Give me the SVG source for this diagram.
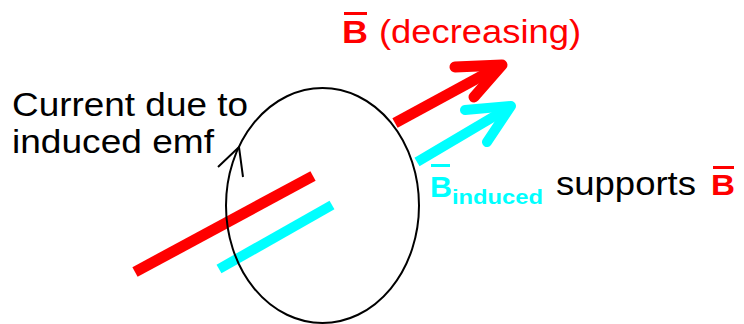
<svg xmlns="http://www.w3.org/2000/svg" width="744" height="324" viewBox="0 0 744 324">
<style>
.t{font-family:"Liberation Sans",Arial,sans-serif;}
.b{font-weight:bold;}
.red{stroke:#FF0000;fill:none;}
.cyan{stroke:#00FFFF;fill:none;}
.loop{stroke:#000;fill:none;stroke-width:2;}
</style>
<rect width="744" height="324" fill="#fff"/>
<g id="field-back">
  <line class="red" x1="135" y1="272" x2="313" y2="176" stroke-width="11"/>
  <line class="cyan" x1="219" y1="269" x2="332" y2="205" stroke-width="10"/>
</g>
<g id="loop">
  <ellipse class="loop" cx="322.5" cy="205.5" rx="96.5" ry="117.5"/>
  <polyline class="loop" points="218,167 239,147 243,177"/>
</g>
<g id="connectors">
  <g id="B-arrow">
    <line class="red" x1="395" y1="123" x2="500" y2="66" stroke-width="11"/>
    <polyline class="red" points="455,67 502,65 474,97" stroke-width="11" stroke-linecap="round" stroke-linejoin="round"/>
  </g>
  <g id="Binduced-arrow">
    <line class="cyan" x1="417" y1="162" x2="510" y2="107" stroke-width="10"/>
    <polyline class="cyan" points="465,110 511,106 487,142" stroke-width="10" stroke-linecap="round" stroke-linejoin="round"/>
  </g>
</g>
<g id="label-current">
  <text class="t" x="12" y="116" font-size="32.5" textLength="236" lengthAdjust="spacingAndGlyphs">Current due to</text>
  <text class="t" x="12" y="153" font-size="32.5" textLength="202" lengthAdjust="spacingAndGlyphs">induced emf</text>
</g>
<g id="label-B" fill="#FF0000">
  <rect x="344" y="12" width="23" height="3"/>
  <text class="t b" x="342" y="43" font-size="31.5" textLength="26" lengthAdjust="spacingAndGlyphs">B</text>
  <text class="t" x="379" y="43" font-size="32.5" textLength="202" lengthAdjust="spacingAndGlyphs">(decreasing)</text>
</g>
<g id="label-supports">
  <rect x="431" y="164" width="19" height="3" fill="#00FFFF"/>
  <text class="t b" x="430" y="197" font-size="29" textLength="22" lengthAdjust="spacingAndGlyphs" fill="#00FFFF">B</text>
  <text class="t b" x="452" y="204" font-size="21" textLength="91" lengthAdjust="spacingAndGlyphs" fill="#00FFFF">induced</text>
  <text class="t" x="556" y="195" font-size="32.5" textLength="140" lengthAdjust="spacingAndGlyphs">supports</text>
  <rect x="713" y="166" width="21" height="3" fill="#FF0000"/>
  <text class="t b" x="711" y="195" font-size="30" textLength="24" lengthAdjust="spacingAndGlyphs" fill="#FF0000">B</text>
</g>
</svg>
